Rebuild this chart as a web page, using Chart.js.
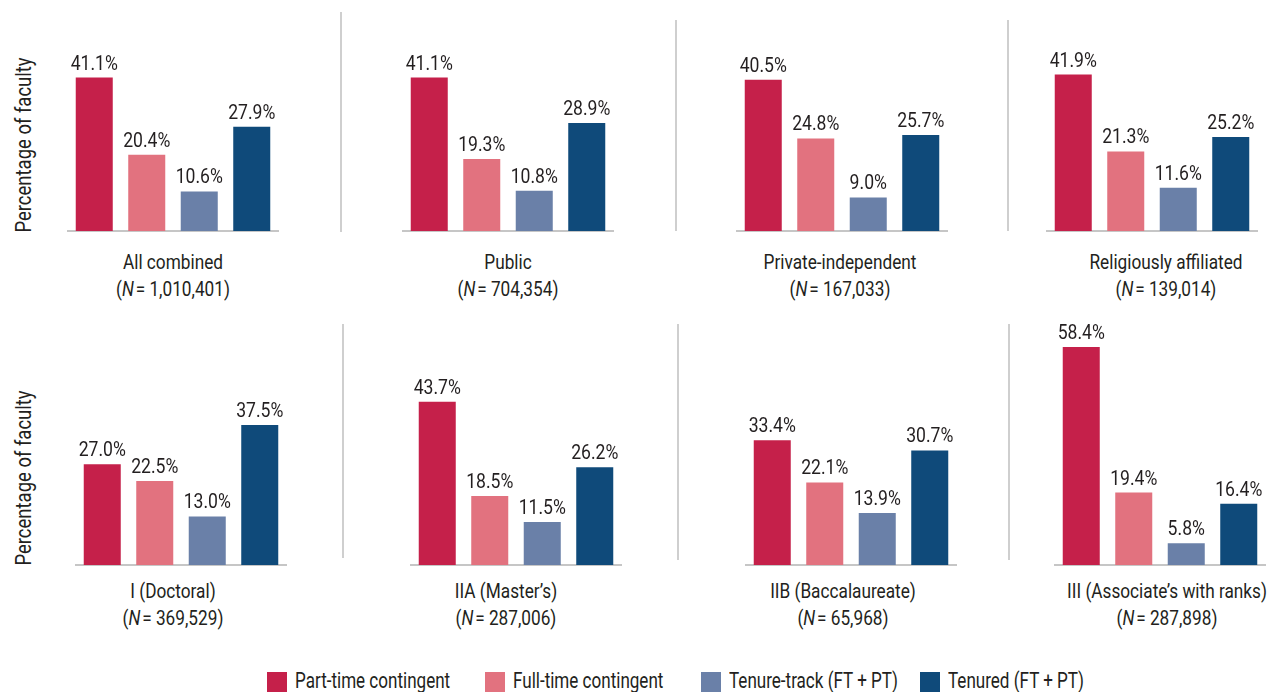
<!DOCTYPE html>
<html>
<head>
<meta charset="utf-8">
<script src="https://cdn.jsdelivr.net/npm/chart.js@4.4.1/dist/chart.umd.min.js"></script>
<style>
  html, body { margin: 0; padding: 0; background: #fff; }
  body { width: 1269px; height: 692px; position: relative; overflow: hidden;
         font-family: Roboto, "Liberation Sans", sans-serif; color: #231f20; }
  .abs { position: absolute; }
  .sep { position: absolute; width: 2px; background: #cfcfcf; }
  .cat { position: absolute; transform: translateX(-50%) scaleX(0.82); white-space: nowrap; font-size: 21px; text-align: center; line-height: 27px; }
  .ytitle { position: absolute; white-space: nowrap; font-size: 22px; transform: translate(-50%, -50%) rotate(-90deg) scaleX(0.84); }
  .leg { position: absolute; top: 672px; font-size: 22px; white-space: nowrap; line-height: 20px; }
  .leg span.box { position: absolute; top: 0; width: 20px; height: 20px; }
  .leg span.txt { position: absolute; left: 28px; top: -1px; transform-origin: 0 50%; transform: scaleX(0.775); }
</style>
</head>
<body>
<script>
// series (legend) names
var categories = ['Part-time contingent', 'Full-time contingent', 'Tenure-track (FT + PT)', 'Tenured (FT + PT)'];
// institution groups
var groups = ['All combined', 'Public', 'Private-independent', 'Religiously affiliated',
              'I (Doctoral)', 'IIA (Master\u2019s)', 'IIB (Baccalaureate)', 'III (Associate\u2019s with ranks)'];
var groupN = ['1,010,401', '704,354', '167,033', '139,014', '369,529', '287,006', '65,968', '287,898'];

var partTime    = [41.1, 41.1, 40.5, 41.9, 27.0, 43.7, 33.4, 58.4];
var fullTime    = [20.4, 19.3, 24.8, 21.3, 22.5, 18.5, 22.1, 19.4];
var tenureTrack = [10.6, 10.8, 9.0, 11.6, 13.0, 11.5, 13.9, 5.8];
var tenured     = [27.9, 28.9, 25.7, 25.2, 37.5, 26.2, 30.7, 16.4];

var colors = ['#c5204a', '#e2727f', '#6a80a8', '#0f4a7a'];

// layout of the panels on the page
var panelX = [68, 403, 737, 1047, 76, 411, 746, 1055];
var labelX = [173, 508, 840, 1166, 173, 506, 843, 1167];
var rowBase = [231, 565];
var AREA_W = 210, AREA_H = 224, PAD = 22, TOP = 40, BOT = 4;

var textFont = 'Roboto, "Liberation Sans", sans-serif';

var valueLabels = {
  id: 'valueLabels',
  afterDatasetsDraw: function(chart) {
    var ctx = chart.ctx;
    var ds = chart.data.datasets[0];
    chart.getDatasetMeta(0).data.forEach(function(bar, j) {
      ctx.save();
      ctx.font = '20px ' + textFont;
      ctx.fillStyle = '#231f20';
      ctx.textAlign = 'center';
      ctx.textBaseline = 'alphabetic';
      ctx.translate(bar.x, bar.y - 8);
      ctx.scale(0.88, 1);
      ctx.fillText(ds.data[j].toFixed(1) + '%', 0, 0);
      ctx.restore();
    });
  }
};

function add(html, cls, style) {
  var d = document.createElement('div');
  d.className = cls;
  d.innerHTML = html;
  for (var k in style) d.style[k] = style[k];
  document.body.appendChild(d);
  return d;
}

for (var i = 0; i < groups.length; i++) {
  var row = i < 4 ? 0 : 1;
  var base = rowBase[row];
  var wrap = document.createElement('div');
  wrap.className = 'abs';
  wrap.style.left = (panelX[i] - PAD) + 'px';
  wrap.style.top = (base - AREA_H - TOP) + 'px';
  var canvas = document.createElement('canvas');
  canvas.width = AREA_W + 2 * PAD;
  canvas.height = AREA_H + TOP + BOT;
  canvas.style.width = canvas.width + 'px';
  canvas.style.height = canvas.height + 'px';
  wrap.appendChild(canvas);
  document.body.appendChild(wrap);

  new Chart(canvas.getContext('2d'), {
    type: 'bar',
    data: {
      labels: categories,
      datasets: [{
        data: [partTime[i], fullTime[i], tenureTrack[i], tenured[i]],
        backgroundColor: colors,
        barPercentage: 0.705,
        categoryPercentage: 1
      }]
    },
    options: {
      responsive: false,
      animation: false,
      layout: { padding: { left: PAD, right: PAD, top: TOP, bottom: BOT } },
      plugins: { legend: { display: false }, tooltip: { enabled: false } },
      scales: {
        x: {
          grid: { display: false, drawTicks: false },
          ticks: { display: false },
          border: { display: true, color: '#c6c6c6', width: 2 },
          afterFit: function(s) { s.height = 0; }
        },
        y: { display: false, min: 0, max: 60 }
      }
    },
    plugins: [valueLabels]
  });

  var lblTop = row === 0 ? base + 18 : base + 13;
  add(groups[i] + '<br>(<i>N</i>&#8202;=&nbsp;' + groupN[i] + ')', 'cat',
      { left: labelX[i] + 'px', top: lblTop + 'px' });
}

// separators
[[340, 12, 232], [675, 20, 231], [1007, 20, 231], [342, 324, 558], [677, 324, 560], [1008, 324, 560]]
  .forEach(function(s) {
    add('', 'sep', { left: s[0] + 'px', top: s[1] + 'px', height: (s[2] - s[1]) + 'px' });
  });

// y titles
add('Percentage of faculty', 'ytitle', { left: '23px', top: '145px' });
add('Percentage of faculty', 'ytitle', { left: '23px', top: '478px' });

// legend
var legX = [267, 485, 701, 920];
categories.forEach(function(c, j) {
  add('<span class="box" style="left:0;background:' + colors[j] + '"></span>' +
      '<span class="txt">' + c + '</span>',
      'leg', { left: legX[j] + 'px' });
});
</script>
</body>
</html>
